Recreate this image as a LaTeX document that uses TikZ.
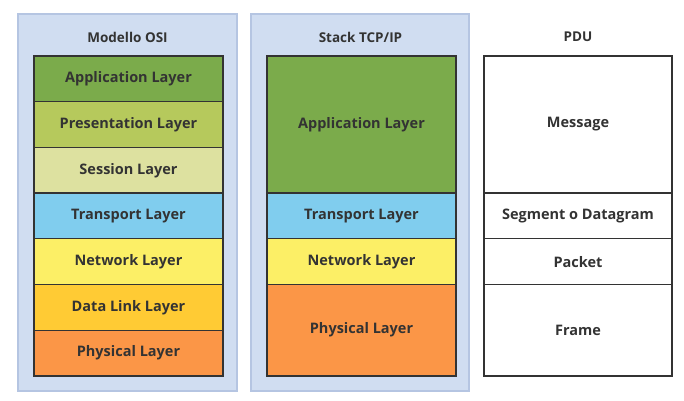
\documentclass[tikz,border=0pt]{standalone}
\usepackage{fontspec}
\setmainfont{Open Sans}
\usepackage{tikz}
\usetikzlibrary{positioning}
\definecolor{pannello}{HTML}{D0DDF1}
\definecolor{bordopan}{HTML}{B5C5E2}
\definecolor{appl}{HTML}{7BAB4B}
\definecolor{pres}{HTML}{B6C95C}
\definecolor{sess}{HTML}{DDE1A0}
\definecolor{trasp}{HTML}{80CDEE}
\definecolor{rete}{HTML}{FCEF66}
\definecolor{datal}{HTML}{FFCB34}
\definecolor{fisico}{HTML}{FB9647}
\definecolor{testo}{HTML}{333333}
\tikzset{
  pan/.style={draw=bordopan, fill=pannello, line width=1.2pt},
  titolo/.style={font=\bfseries\fontsize{13.5}{15}\selectfont, text=testo},
  livello/.style={draw=testo, line width=1.3pt, anchor=north west, inner sep=0pt, outer sep=0pt,
    minimum width=189pt, font=\bfseries\fontsize{14.5}{16}\selectfont, text=testo},
}
\begin{document}
\begin{tikzpicture}[x=1pt,y=-1pt]

            \useasboundingbox (0,0) rectangle (684,400);

            % Pannelli di sfondo
            \draw[pan] (18,14) rectangle (237,391);
            \draw[pan] (251,14) rectangle (469,391);

            % Titoli delle colonne
            \node[titolo] (tosi) at (127.5,37) {Modello OSI};
            \node[titolo] (ttcp) at (360.5,37) {Stack TCP/IP};
            \node[titolo] (tpdu) at (578,37) {PDU};

            % Modello OSI: sette livelli
            \foreach \nome/\col [count=\i from 0] in {Application Layer/appl, Presentation Layer/pres, Session Layer/sess, Transport Layer/trasp, Network Layer/rete, Data Link Layer/datal, Physical Layer/fisico}
              \node[livello, fill=\col, minimum height=45.7pt] (osi\i) at (34,56+45.7*\i) {\nome};

            % Stack TCP/IP
            \node[livello, fill=appl, minimum height=137.1pt] (tcpapp) at (267,56) {Application Layer};
            \node[livello, fill=trasp, minimum height=45.7pt] (tcptr) at (tcpapp.south west) {Transport Layer};
            \node[livello, fill=rete, minimum height=45.7pt] (tcpnet) at (tcptr.south west) {Network Layer};
            \node[livello, fill=fisico, minimum height=91.4pt] (tcpfis) at (tcpnet.south west) {Physical Layer};

            % PDU
            \node[livello, fill=white, minimum height=137.1pt, minimum width=188pt] (msg) at (484,56) {Message};
            \node[livello, fill=white, minimum height=45.7pt, minimum width=188pt] (seg) at (msg.south west) {Segment o Datagram};
            \node[livello, fill=white, minimum height=45.7pt, minimum width=188pt] (pkt) at (seg.south west) {Packet};
            \node[livello, fill=white, minimum height=91.4pt, minimum width=188pt] (frm) at (pkt.south west) {Frame};

\end{tikzpicture}
\end{document}
